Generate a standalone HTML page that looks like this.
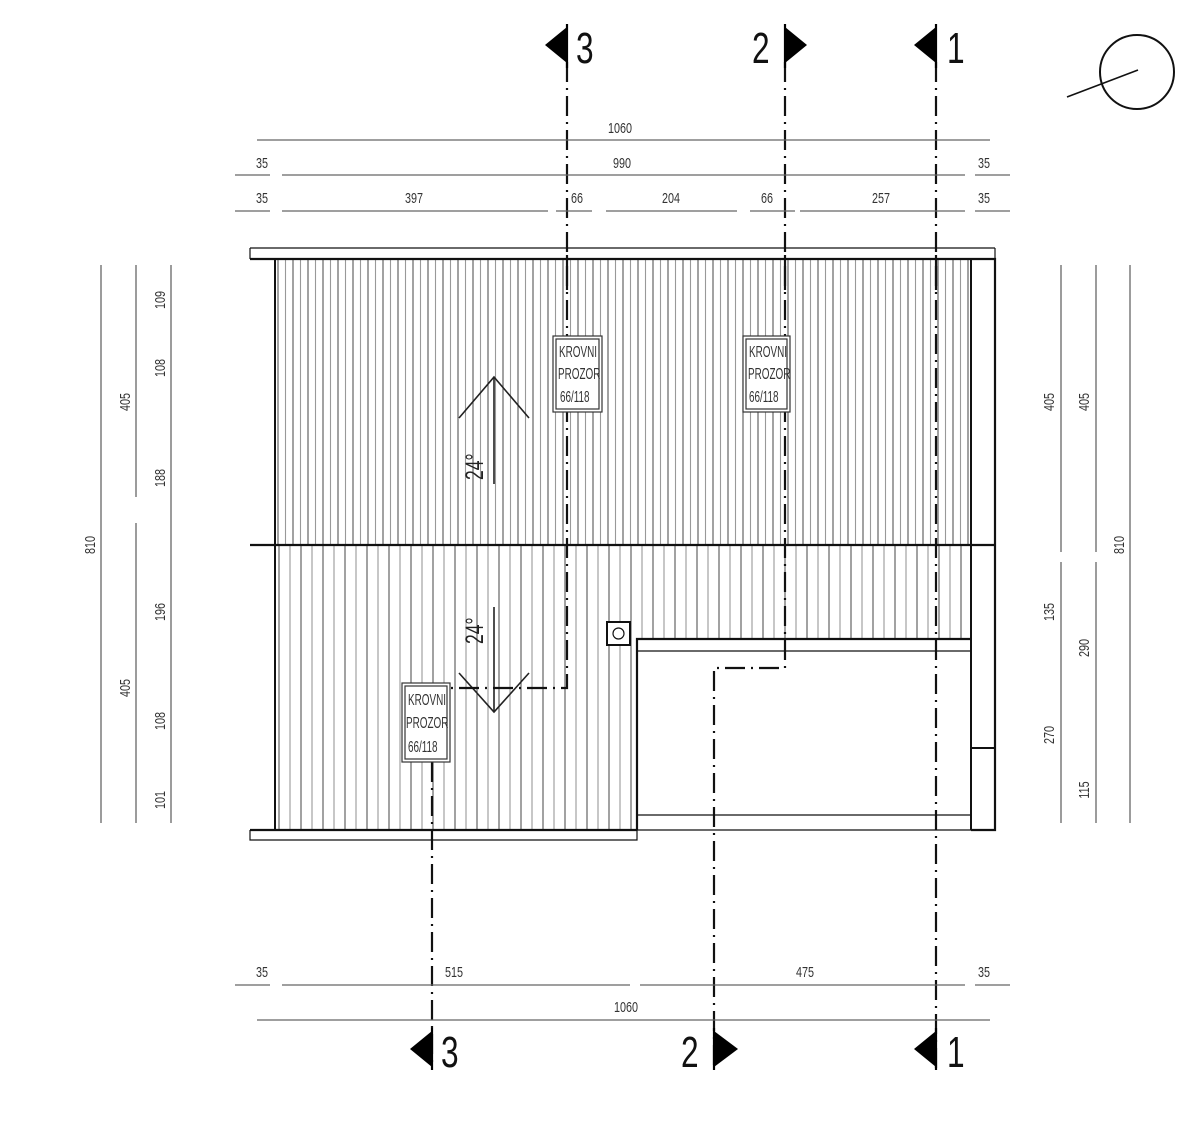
<!DOCTYPE html>
<html><head><meta charset="utf-8"><style>html,body{margin:0;padding:0;background:#fff}svg{display:block}</style></head>
<body>
<svg width="1200" height="1142" viewBox="0 0 1200 1142" xmlns="http://www.w3.org/2000/svg" font-family="Liberation Sans, sans-serif">
<defs>
<pattern id="hu" patternUnits="userSpaceOnUse" x="275" y="0" width="15" height="10">
<line x1="3" y1="0" x2="3" y2="10" stroke="#555" stroke-width="1.1"/>
<line x1="10.5" y1="0" x2="10.5" y2="10" stroke="#999" stroke-width="1.1"/>
</pattern>
<pattern id="hl" patternUnits="userSpaceOnUse" x="275" y="0" width="22" height="10">
<line x1="4" y1="0" x2="4" y2="10" stroke="#555" stroke-width="1.1"/>
<line x1="15" y1="0" x2="15" y2="10" stroke="#999" stroke-width="1.1"/>
</pattern>
</defs>
<rect x="275" y="260" width="696" height="285" fill="url(#hu)"/>
<rect x="275" y="545" width="362" height="285" fill="url(#hl)"/>
<rect x="637" y="545" width="334" height="94" fill="url(#hl)"/>
<g fill="none" stroke="#111">
<line x1="250" y1="248" x2="995" y2="248" stroke-width="1.2"/>
<line x1="250" y1="248" x2="250" y2="259" stroke-width="1.2"/>
<line x1="995" y1="248" x2="995" y2="259" stroke-width="1.2"/>
<path d="M250 259 H995 V830 H971 M637 830 H250 Z" stroke-width="2.2"/>
<line x1="275" y1="259" x2="275" y2="830" stroke-width="2"/>
<line x1="971" y1="259" x2="971" y2="830" stroke-width="2"/>
<line x1="250" y1="545" x2="995" y2="545" stroke-width="2.2"/>
<path d="M637 830 V639 H971" stroke-width="2.2"/>
<line x1="637" y1="651" x2="971" y2="651" stroke-width="1.2"/>
<line x1="637" y1="815" x2="971" y2="815" stroke-width="1.2"/>
<line x1="637" y1="830" x2="971" y2="830" stroke-width="1.2"/>
<line x1="971" y1="748" x2="995" y2="748" stroke-width="2"/>
<path d="M250 830 V840 H637 V830" stroke-width="1.2"/>
<rect x="607" y="622" width="23" height="23" stroke-width="2" fill="#fff"/>
<circle cx="618.5" cy="633.5" r="5.5" stroke-width="1.2"/>
</g>
<g stroke="#222" stroke-width="1.6" fill="none">
<path d="M459 418 L494 377 L529 418"/><line x1="494" y1="377" x2="494" y2="484"/>
<path d="M459 673 L494 712 L529 673"/><line x1="494" y1="607" x2="494" y2="712"/>
</g>
<g font-size="25" fill="#222">
<text transform="translate(483,480) rotate(-90) scale(0.7,1)">24°</text>
<text transform="translate(483,644) rotate(-90) scale(0.7,1)">24°</text>
</g>
<g stroke="#111" stroke-width="2.2" fill="none" stroke-dasharray="20 6 2 6">
<path d="M567 62 V688 H440"/>
<path d="M432 762 V1068"/>
<path d="M785 62 V668 H714 V1068"/>
<path d="M936 62 V1068"/>
</g>
<g fill="#fff" stroke="#333" stroke-width="1.2">
<rect x="553" y="336" width="49" height="76"/><rect x="556" y="339" width="43" height="70"/>
<rect x="743" y="336" width="47" height="76"/><rect x="746" y="339" width="41" height="70"/>
<rect x="402" y="683" width="48" height="79"/><rect x="405" y="686" width="42" height="73"/>
</g>
<g font-size="16" fill="#333">
<text transform="translate(559,357) scale(0.62,1)">KROVNI</text>
<text transform="translate(558,379) scale(0.62,1)">PROZOR</text>
<text transform="translate(560,402) scale(0.62,1)">66/118</text>
<text transform="translate(749,357) scale(0.62,1)">KROVNI</text>
<text transform="translate(748,379) scale(0.62,1)">PROZOR</text>
<text transform="translate(749,402) scale(0.62,1)">66/118</text>
<text transform="translate(408,705) scale(0.62,1)">KROVNI</text>
<text transform="translate(406,728) scale(0.62,1)">PROZOR</text>
<text transform="translate(408,752) scale(0.62,1)">66/118</text>
</g>
<g stroke="#111" stroke-width="2.2">
<line x1="567" y1="255" x2="567" y2="290"/><line x1="785" y1="255" x2="785" y2="290"/><line x1="936" y1="255" x2="936" y2="290"/>
</g>
<g fill="#000">
<polygon points="545,45 567,27 567,63"/>
<polygon points="807,45 785,27 785,63"/>
<polygon points="914,45 936,27 936,63"/>
<polygon points="410,1049 432,1031 432,1067"/>
<polygon points="738,1049 714,1031 714,1067"/>
<polygon points="914,1049 936,1031 936,1067"/>
</g>
<g stroke="#000" stroke-width="2.2"><line x1="567" y1="24" x2="567" y2="68"/><line x1="785" y1="24" x2="785" y2="68"/><line x1="936" y1="24" x2="936" y2="68"/>
<line x1="432" y1="1028" x2="432" y2="1070"/><line x1="714" y1="1028" x2="714" y2="1070"/><line x1="936" y1="1028" x2="936" y2="1070"/></g>
<g font-size="44" fill="#111">
<text transform="translate(576,63) scale(0.72,1)">3</text>
<text transform="translate(752,63) scale(0.72,1)">2</text>
<text transform="translate(947,63) scale(0.72,1)">1</text>
<text transform="translate(441,1067) scale(0.72,1)">3</text>
<text transform="translate(681,1067) scale(0.72,1)">2</text>
<text transform="translate(947,1067) scale(0.72,1)">1</text>
</g>
<ellipse cx="1137" cy="72" rx="37" ry="37" fill="none" stroke="#111" stroke-width="2"/>
<line x1="1067" y1="97" x2="1138" y2="70" stroke="#111" stroke-width="1.6"/>
<g stroke="#666" stroke-width="1.3">
<line x1="257" y1="140" x2="990" y2="140"/>
<line x1="235" y1="175" x2="1010" y2="175"/>
<line x1="235" y1="211" x2="1010" y2="211"/>
<line x1="235" y1="985" x2="1010" y2="985"/>
<line x1="257" y1="1020" x2="990" y2="1020"/>
<line x1="101" y1="265" x2="101" y2="823"/>
<line x1="136" y1="265" x2="136" y2="823"/>
<line x1="171" y1="265" x2="171" y2="823"/>
<line x1="1061" y1="265" x2="1061" y2="823"/>
<line x1="1096" y1="265" x2="1096" y2="823"/>
<line x1="1130" y1="265" x2="1130" y2="823"/>
</g>
<g stroke="#fff" stroke-width="4">
<line x1="548" y1="211" x2="556" y2="211"/><line x1="592" y1="211" x2="606" y2="211"/><line x1="737" y1="211" x2="750" y2="211"/><line x1="795" y1="211" x2="800" y2="211"/>
<line x1="270" y1="211" x2="282" y2="211"/><line x1="965" y1="211" x2="975" y2="211"/>
<line x1="270" y1="985" x2="282" y2="985"/><line x1="630" y1="985" x2="640" y2="985"/><line x1="965" y1="985" x2="975" y2="985"/>
<line x1="270" y1="175" x2="282" y2="175"/><line x1="965" y1="175" x2="975" y2="175"/>
<line x1="136" y1="497" x2="136" y2="523"/><line x1="1061" y1="552" x2="1061" y2="562"/><line x1="1096" y1="552" x2="1096" y2="562"/>
</g>
<g font-size="15" fill="#333" text-anchor="middle">
<text transform="translate(620,133) scale(0.72,1)">1060</text>
<text transform="translate(262,168) scale(0.72,1)">35</text>
<text transform="translate(622,168) scale(0.72,1)">990</text>
<text transform="translate(984,168) scale(0.72,1)">35</text>
<text transform="translate(262,203) scale(0.72,1)">35</text>
<text transform="translate(414,203) scale(0.72,1)">397</text>
<text transform="translate(577,203) scale(0.72,1)">66</text>
<text transform="translate(671,203) scale(0.72,1)">204</text>
<text transform="translate(767,203) scale(0.72,1)">66</text>
<text transform="translate(881,203) scale(0.72,1)">257</text>
<text transform="translate(984,203) scale(0.72,1)">35</text>
<text transform="translate(262,977) scale(0.72,1)">35</text>
<text transform="translate(454,977) scale(0.72,1)">515</text>
<text transform="translate(805,977) scale(0.72,1)">475</text>
<text transform="translate(984,977) scale(0.72,1)">35</text>
<text transform="translate(626,1012) scale(0.72,1)">1060</text>
<text transform="translate(95,545) rotate(-90) scale(0.72,1)">810</text>
<text transform="translate(130,402) rotate(-90) scale(0.72,1)">405</text>
<text transform="translate(130,688) rotate(-90) scale(0.72,1)">405</text>
<text transform="translate(165,300) rotate(-90) scale(0.72,1)">109</text>
<text transform="translate(165,368) rotate(-90) scale(0.72,1)">108</text>
<text transform="translate(165,478) rotate(-90) scale(0.72,1)">188</text>
<text transform="translate(165,612) rotate(-90) scale(0.72,1)">196</text>
<text transform="translate(165,721) rotate(-90) scale(0.72,1)">108</text>
<text transform="translate(165,800) rotate(-90) scale(0.72,1)">101</text>
<text transform="translate(1054,402) rotate(-90) scale(0.72,1)">405</text>
<text transform="translate(1054,612) rotate(-90) scale(0.72,1)">135</text>
<text transform="translate(1054,735) rotate(-90) scale(0.72,1)">270</text>
<text transform="translate(1089,402) rotate(-90) scale(0.72,1)">405</text>
<text transform="translate(1089,648) rotate(-90) scale(0.72,1)">290</text>
<text transform="translate(1089,790) rotate(-90) scale(0.72,1)">115</text>
<text transform="translate(1124,545) rotate(-90) scale(0.72,1)">810</text>
</g>
</svg>
</body></html>
